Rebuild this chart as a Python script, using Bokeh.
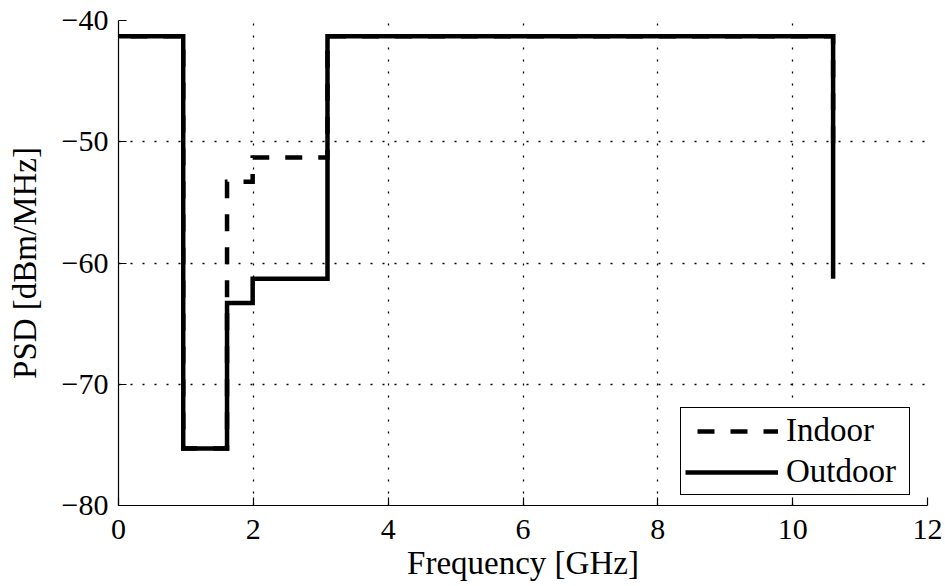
from bokeh.plotting import figure
from bokeh.models import FixedTicker, Legend, LegendItem, Range1d
from bokeh.embed import file_html
from bokeh.resources import INLINE

# UWB emission mask: band edges (GHz) and PSD limits (dBm/MHz)
band_edges = [0.0, 0.96, 1.61, 1.99, 3.1, 10.6]
indoor_levels = [-41.3, -75.3, -53.3, -51.3, -41.3]
outdoor_levels = [-41.3, -75.3, -63.3, -61.3, -41.3]
indoor_above = -51.3
outdoor_above = -61.3

x_ticks = [0, 2, 4, 6, 8, 10, 12]
y_ticks = [-80, -70, -60, -50, -40]


def step_path(edges, levels, tail):
    """Turn band edges and per-band levels into a stepped outline."""
    xs, ys = [], []
    for i, lv in enumerate(levels):
        xs += [edges[i], edges[i + 1]]
        ys += [lv, lv]
    xs.append(edges[-1])
    ys.append(tail)
    return xs, ys


ix, iy = step_path(band_edges, indoor_levels, indoor_above)
ox, oy = step_path(band_edges, outdoor_levels, outdoor_above)

FONT = "Liberation Serif"

p = figure(width=945, height=586, output_backend="svg", toolbar_location=None,
           x_range=Range1d(0, 12), y_range=Range1d(-80, -40),
           min_border_left=118, min_border_right=18,
           min_border_top=20, min_border_bottom=81)
p.outline_line_color = None

r_in = p.line(ix, iy, line_color="black", line_width=4.5, line_dash="17 16",
              line_dash_offset=21, line_join="miter")
r_out = p.line(ox, oy, line_color="black", line_width=4.5, line_join="miter")

p.axis.axis_line_color = "black"
p.axis.axis_line_width = 1.2
p.axis.major_tick_in = 8
p.axis.major_tick_out = 0
p.axis.minor_tick_line_color = None
p.axis.major_tick_line_color = "black"
p.axis.major_tick_line_width = 1.2
p.axis.major_label_text_font = FONT
p.axis.major_label_text_font_size = "30px"
p.axis.major_label_text_color = "black"
p.axis.axis_label_text_font = FONT
p.axis.axis_label_text_font_size = "33px"
p.axis.axis_label_text_font_style = "normal"
p.axis.axis_label_text_color = "black"

p.xaxis.ticker = FixedTicker(ticks=x_ticks)
p.yaxis.ticker = FixedTicker(ticks=y_ticks)
p.yaxis.major_label_overrides = {t: ("\u2212" + str(abs(t))) for t in y_ticks}
p.xaxis.major_label_standoff = 14
p.yaxis.major_label_standoff = 10
p.xaxis.axis_label = "Frequency [GHz]"
p.yaxis.axis_label = "PSD [dBm/MHz]"
p.xaxis.axis_label_standoff = 3
p.yaxis.axis_label_standoff = 16

p.xgrid.ticker = FixedTicker(ticks=x_ticks)
p.ygrid.ticker = FixedTicker(ticks=y_ticks)
p.grid.grid_line_color = "black"
p.grid.grid_line_width = 1.3
p.grid.grid_line_dash = "2 10"

legend = Legend(items=[LegendItem(label="Indoor", renderers=[r_in]),
                       LegendItem(label="Outdoor", renderers=[r_out])],
                location=(562, 10))
legend.label_text_font = FONT
legend.label_text_font_size = "33px"
legend.label_text_color = "black"
legend.glyph_width = 93
legend.glyph_height = 30
legend.label_height = 30
legend.label_width = 119
legend.label_standoff = 8
legend.spacing = 4
legend.padding = 4
legend.margin = 0
legend.border_line_color = "black"
legend.border_line_width = 1.5
legend.border_line_alpha = 1
legend.background_fill_alpha = 1
p.add_layout(legend, "center")

open("out.html", "w").write(file_html(p, INLINE))
